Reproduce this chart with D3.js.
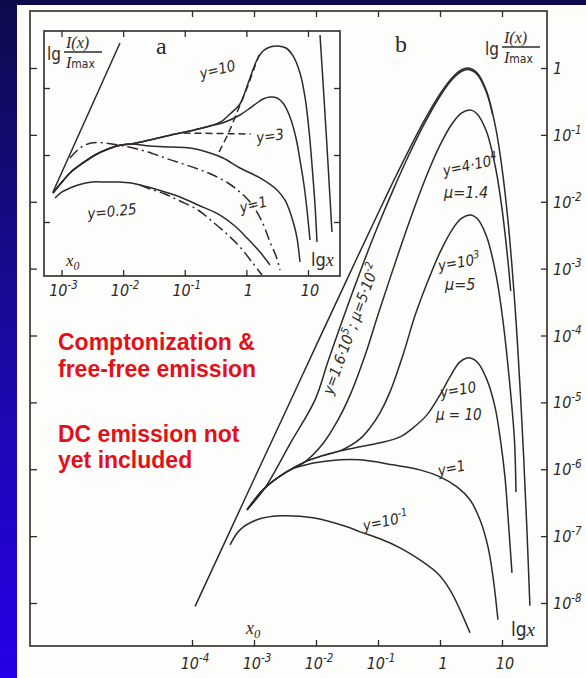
<!DOCTYPE html>
<html><head><meta charset="utf-8">
<script src="https://cdn.jsdelivr.net/npm/d3@7"></script>
<style>html,body{margin:0;padding:0;background:#fff;} svg{display:block;}</style>
</head><body>
<script>
// ---------- data (lg x , lg I/Imax) ----------
const xTicksB = [-4,-3,-2,-1,0,1];
const yTicksB = [0,-1,-2,-3,-4,-5,-6,-7,-8];
const xTicksA = [-3,-2,-1,0,1];
const yTicksA = [0,-1,-2];

// panel b
const planckB = [[-3.95,-8.05],[-3.5,-7.15],[-3,-6.15],[-2.5,-5.155],[-2,-4.155],[-1.5,-3.16],[-1,-2.175],[-0.75,-1.69],[-0.5,-1.223],[-0.25,-0.78],[0,-0.388],[0.2,-0.141],[0.35,-0.026],[0.45,0],[0.6,-0.074],[0.75,-0.343],[0.9,-0.902],[1.0,-1.496],[1.1,-2.315],[1.2,-3.436],[1.25,-4.125],[1.3,-4.918],[1.35,-5.827],[1.4,-6.861],[1.45,-8.04]];
const y16e5 = [[-3.113,-6.607],[-2.823,-6.278],[-2.419,-5.62],[-2.016,-4.963],[-1.8,-4.371],[-1.5,-3.58],[-1.2,-2.831],[-1,-2.36],[-0.75,-1.811],[-0.5,-1.298],[-0.25,-0.829],[0,-0.422],[0.2,-0.169],[0.35,-0.051],[0.45,-0.023],[0.6,-0.096],[0.75,-0.365],[0.85,-0.698]];
const y4e4 = [[-3.113,-6.607],[-2.823,-6.278],[-2.5,-6.054],[-2.177,-5.889],[-1.903,-5.635],[-1.645,-5.262],[-1.435,-4.858],[-1.2,-4.274],[-1,-3.69],[-0.8,-3.127],[-0.6,-2.578],[-0.4,-2.055],[-0.2,-1.574],[0,-1.154],[0.2,-0.827],[0.35,-0.671],[0.5,-0.63],[0.6,-0.688],[0.75,-0.951],[0.9,-1.51],[1.0,-2.104],[1.1,-2.923],[1.14,-3.334]];
const y1e3 = [[-3.113,-6.607],[-2.823,-6.278],[-2.5,-6.054],[-2.177,-5.889],[-1.903,-5.8],[-1.613,-5.725],[-1.29,-5.546],[-1.129,-5.381],[-0.968,-5.157],[-0.806,-4.843],[-0.597,-4.29],[-0.4,-3.695],[-0.2,-3.197],[0,-2.757],[0.2,-2.412],[0.35,-2.246],[0.5,-2.197],[0.6,-2.252],[0.75,-2.516],[0.9,-3.074],[1.0,-3.667],[1.1,-4.486],[1.2,-5.55],[1.225,-6.34]];
const y10B = [[-3.113,-6.607],[-2.823,-6.278],[-2.5,-6.054],[-2.177,-5.889],[-1.903,-5.8],[-1.613,-5.725],[-1.29,-5.665],[-0.968,-5.605],[-0.645,-5.516],[-0.435,-5.381],[-0.21,-5.187],[0,-4.888],[0.161,-4.619],[0.323,-4.395],[0.484,-4.335],[0.613,-4.41],[0.758,-4.664],[0.887,-5.067],[0.968,-5.516],[1.048,-6.114],[1.097,-6.711],[1.161,-7.549]];
const y1B = [[-2.339,-5.979],[-2.016,-5.904],[-1.613,-5.859],[-1.29,-5.859],[-0.758,-5.934],[-0.323,-6.009],[0,-6.114],[0.274,-6.263],[0.484,-6.457],[0.645,-6.756],[0.774,-7.16],[0.855,-7.608],[0.935,-8.251]];
const y01B = [[-3.387,-7.13],[-3.226,-6.906],[-2.952,-6.756],[-2.581,-6.697],[-2.048,-6.726],[-1.5,-6.861],[-1.29,-6.936],[-0.968,-7.04],[-0.645,-7.175],[-0.323,-7.354],[-0.048,-7.549],[0.161,-7.803],[0.323,-8.102],[0.484,-8.446]];

// panel a (inset)
const planckA = [[-3.138,-1.552],[-2.051,0.672]];
const wienA = [[1.195,0.791],[1.292,-0.627],[1.389,-2.149]];
const y10A = [[-3.138,-1.567],[-2.992,-1.403],[-2.846,-1.254],[-2.651,-1.119],[-2.456,-1.0],[-2.245,-0.91],[-2.034,-0.851],[-1.872,-0.836],[-1.564,-0.776],[-1.223,-0.701],[-0.915,-0.642],[-0.785,-0.612],[-0.59,-0.567],[-0.395,-0.493],[-0.266,-0.388],[-0.104,-0.239],[-0.022,-0.06],[0.059,0.149],[0.172,0.418],[0.27,0.552],[0.383,0.612],[0.513,0.627],[0.643,0.597],[0.757,0.478],[0.87,0.224],[0.951,-0.134],[1.016,-0.627],[1.065,-1.149],[1.114,-1.746],[1.146,-2.299]];
const y3A = [[-3.138,-1.567],[-2.992,-1.403],[-2.846,-1.254],[-2.651,-1.119],[-2.456,-1.0],[-2.245,-0.91],[-2.034,-0.851],[-1.872,-0.836],[-1.564,-0.776],[-1.223,-0.701],[-0.915,-0.642],[-0.785,-0.612],[-0.59,-0.567],[-0.347,-0.507],[-0.104,-0.403],[0.059,-0.299],[0.172,-0.224],[0.27,-0.164],[0.383,-0.134],[0.497,-0.149],[0.594,-0.224],[0.708,-0.433],[0.805,-0.746],[0.87,-1.075],[0.935,-1.448],[0.984,-1.821],[1.032,-2.269]];
const y1A = [[-3.138,-1.567],[-2.992,-1.403],[-2.846,-1.254],[-2.651,-1.119],[-2.456,-1.0],[-2.245,-0.91],[-2.034,-0.851],[-1.872,-0.836],[-1.564,-0.866],[-1.223,-0.881],[-0.915,-0.896],[-0.59,-0.97],[-0.379,-1.045],[-0.104,-1.194],[0.221,-1.343],[0.497,-1.522],[0.627,-1.672],[0.708,-1.851],[0.773,-2.045],[0.822,-2.239],[0.87,-2.597]];
const y1Adash = [[-2.862,-1.045],[-2.7,-0.896],[-2.521,-0.821],[-2.294,-0.821],[-2.083,-0.851],[-1.84,-0.896],[-1.596,-0.955],[-1.32,-1.045],[-1.077,-1.119],[-0.785,-1.209],[-0.542,-1.299],[-0.298,-1.418],[-0.104,-1.552],[0.059,-1.701],[0.172,-1.851],[0.286,-2.06],[0.383,-2.299],[0.481,-2.507],[0.546,-2.716]];
const y025A = [[-3.105,-1.642],[-2.992,-1.552],[-2.862,-1.493],[-2.732,-1.448],[-2.505,-1.403],[-2.294,-1.403],[-2.083,-1.403],[-1.872,-1.418],[-1.596,-1.478],[-1.32,-1.552],[-1.077,-1.627],[-0.785,-1.746],[-0.428,-1.896],[-0.185,-2.06],[0.01,-2.239],[0.221,-2.448],[0.383,-2.642]];
const y025Adash = [[-1.726,-1.448],[-1.564,-1.507],[-1.32,-1.582],[-1.077,-1.687],[-0.785,-1.821],[-0.542,-2.0],[-0.298,-2.194],[-0.104,-2.373],[0.091,-2.597],[0.254,-2.791]];
const y3Adash = [[-1.02,-0.672],[0.07,-0.687]];
const y10Adash = [[-0.444,-0.955],[-0.298,-0.687],[-0.136,-0.328],[0.01,0],[0.14,0.328],[0.205,0.493]];

// ---------- drawing ----------
const W = 586, H = 678;
const INK = "#2e2a27";
const LBL = "'Liberation Sans Narrow','DejaVu Sans Condensed','DejaVu Sans',sans-serif";
const SERIF = "'Liberation Serif','DejaVu Serif',serif";
const svg = d3.select("body").append("svg").attr("width", W).attr("height", H);
const defs = svg.append("defs");
const gr = defs.append("linearGradient").attr("id","bg").attr("x1",0).attr("y1",0).attr("x2",0).attr("y2",1);
gr.append("stop").attr("offset",0).attr("stop-color","#0c0c4c");
gr.append("stop").attr("offset",0.5).attr("stop-color","#1a0aa0");
gr.append("stop").attr("offset",1).attr("stop-color","#2600e8");
svg.append("rect").attr("width",W).attr("height",H).attr("fill","url(#bg)");
svg.append("rect").attr("x",17).attr("y",5).attr("width",W-17).attr("height",H-5).attr("fill","#fdfdfb");

// panel b scales
const xB = d3.scaleLinear().domain([-4,1]).range([192,502]);
const yB = d3.scaleLinear().domain([0,-8]).range([68,603]);
const bL = 30, bR = 547, bT = 11, bB = 646;

const frame = svg.append("g").attr("fill","none").attr("stroke",INK).attr("stroke-width",1.6);
frame.append("rect").attr("x",bL).attr("y",bT).attr("width",bR-bL).attr("height",bB-bT);

function ticks(g){ g.select(".domain").remove(); g.selectAll("line").attr("stroke",INK).attr("stroke-width",1.3); g.selectAll("text").remove(); }
svg.append("g").attr("transform",`translate(0,${bB})`).call(d3.axisTop(xB).tickValues(xTicksB).tickSize(6).tickSizeOuter(0)).call(ticks);
svg.append("g").attr("transform",`translate(0,${bT})`).call(d3.axisBottom(xB).tickValues(xTicksB).tickSize(6).tickSizeOuter(0)).call(ticks);
svg.append("g").attr("transform",`translate(${bL},0)`).call(d3.axisRight(yB).tickValues(yTicksB).tickSize(7).tickSizeOuter(0)).call(ticks);
svg.append("g").attr("transform",`translate(${bR},0)`).call(d3.axisLeft(yB).tickValues(yTicksB).tickSize(6).tickSizeOuter(0)).call(ticks);

function powText(g, e, x, y, size, anchor){
  const t = g.append("text").attr("x",x).attr("y",y).attr("font-family",LBL).attr("font-style","italic")
    .attr("font-size",size).attr("fill",INK).attr("text-anchor",anchor||"middle");
  if (e === 0) { t.text("1"); return t; }
  if (e === 1) { t.text("10"); return t; }
  t.append("tspan").text("10");
  t.append("tspan").attr("dy",-size*0.45).attr("font-size",size*0.72).text(String(e));
  return t;
}
const labB = svg.append("g");
xTicksB.forEach(e => powText(labB, e, xB(e)+3, 669, 16));
yTicksB.forEach(e => powText(labB, e, 553, yB(e)+6, 16, "start"));

const lineB = d3.line().x(d=>xB(d[0])).y(d=>yB(d[1])).curve(d3.curveCatmullRom.alpha(0.5));
const curvesB = svg.append("g").attr("fill","none").attr("stroke",INK).attr("stroke-width",1.5).attr("stroke-linejoin","round");
[planckB, y16e5, y4e4, y1e3, y10B, y1B, y01B].forEach(c => curvesB.append("path").attr("d", lineB(c)));

// ---------- inset a ----------
const aL = 44, aR = 340, aT = 31, aB = 276;
const xA = d3.scaleLinear().domain([-3,1]).range([61.5,308]);
const yA = d3.scaleLinear().domain([0,-2]).range([88,222]);
svg.append("rect").attr("x",aL).attr("y",aT).attr("width",aR-aL).attr("height",aB-aT)
  .attr("fill","#fdfdfb").attr("stroke",INK).attr("stroke-width",1.6);
svg.append("g").attr("transform",`translate(0,${aB})`).call(d3.axisTop(xA).tickValues(xTicksA).tickSize(6).tickSizeOuter(0)).call(ticks);
svg.append("g").attr("transform",`translate(0,${aT})`).call(d3.axisBottom(xA).tickValues(xTicksA).tickSize(6).tickSizeOuter(0)).call(ticks);
svg.append("g").attr("transform",`translate(${aL},0)`).call(d3.axisRight(yA).tickValues(yTicksA).tickSize(6).tickSizeOuter(0)).call(ticks);
svg.append("g").attr("transform",`translate(${aR},0)`).call(d3.axisLeft(yA).tickValues(yTicksA).tickSize(6).tickSizeOuter(0)).call(ticks);
const labA = svg.append("g");
xTicksA.forEach(e => powText(labA, e, xA(e)+2, 296, 16));

const lineA = d3.line().x(d=>xA(d[0])).y(d=>yA(d[1])).curve(d3.curveCatmullRom.alpha(0.5));
const curvesA = svg.append("g").attr("fill","none").attr("stroke",INK).attr("stroke-width",1.5).attr("stroke-linejoin","round");
[planckA, wienA, y10A, y3A, y1A, y025A].forEach(c => curvesA.append("path").attr("d", lineA(c)));
[y1Adash, y025Adash].forEach(c => curvesA.append("path").attr("d", lineA(c)).attr("stroke-dasharray","11,4,2,4"));
[y3Adash, y10Adash].forEach(c => curvesA.append("path").attr("d", lineA(c)).attr("stroke-dasharray","7,4"));

// ---------- text ----------
function lbl(x, y, rot, parts, size){
  const t = svg.append("text").attr("transform",`translate(${x},${y}) rotate(${rot||0})`)
    .attr("font-family",LBL).attr("font-style","italic").attr("font-size",size||15).attr("fill",INK);
  parts.forEach(p => {
    if (typeof p === "string") t.append("tspan").text(p);
    else if (p.sup !== undefined) { t.append("tspan").attr("dy",-(size||15)*0.42).attr("font-size",(size||15)*0.72).text(p.sup);
      t.append("tspan").attr("dy",(size||15)*0.42).text("\u200A"); }
    else if (p.sub !== undefined) { t.append("tspan").attr("dy",(size||15)*0.25).attr("font-size",(size||15)*0.72).text(p.sub); }
  });
  return t;
}
// fraction label lg I(x)/Imax
function ratioLabel(x, y){
  const g = svg.append("g").attr("transform",`translate(${x},${y})`).attr("fill",INK);
  g.append("text").attr("x",0).attr("y",12).attr("font-family",LBL).attr("font-size",17).text("lg");
  g.append("text").attr("x",19).attr("y",0).attr("font-family",SERIF).attr("font-style","italic").attr("font-size",16).text("I(x)");
  g.append("line").attr("x1",17).attr("x2",55).attr("y1",4).attr("y2",4).attr("stroke",INK).attr("stroke-width",1.3);
  const t = g.append("text").attr("x",19).attr("y",20).attr("font-family",SERIF).attr("font-size",16);
  t.append("tspan").attr("font-style","italic").text("I");
  t.append("tspan").attr("font-size",12).attr("font-family",LBL).text("max");
}
ratioLabel(485, 43);
ratioLabel(47, 48);
svg.append("text").attr("x",395).attr("y",52).attr("font-family",SERIF).attr("font-size",24).attr("fill",INK).text("b");
svg.append("text").attr("x",156).attr("y",54).attr("font-family",SERIF).attr("font-size",24).attr("fill",INK).text("a");

// x0 and lg x
function x0(x,y,size){ const t = svg.append("text").attr("x",x).attr("y",y).attr("font-family",SERIF).attr("font-style","italic").attr("font-size",size).attr("fill",INK);
  t.append("tspan").text("x"); t.append("tspan").attr("dy",4).attr("font-size",size*0.7).text("0"); }
x0(246, 634, 18); x0(66, 266, 17);
function lgx(x,y,size){ const t = svg.append("text").attr("x",x).attr("y",y).attr("font-family",LBL).attr("font-size",size).attr("fill",INK);
  t.append("tspan").text("lg"); t.append("tspan").attr("font-family",SERIF).attr("font-style","italic").text("x"); }
lgx(511, 636, 19); lgx(311, 266, 18);

// curve labels b
lbl(356, 330, -70, ["y=1.6·10",{sup:"5"},"; μ=5·10",{sup:"-2"}], 15).attr("text-anchor","middle");
lbl(444, 176, -12, ["y=4·10",{sup:"4"}], 15);
lbl(444, 198, 0, ["μ=1.4"], 16);
lbl(439, 271, -10, ["y=10",{sup:"3"}], 15);
lbl(445, 290, 0, ["μ=5"], 16);
lbl(441, 398, -10, ["y=10"], 15);
lbl(436, 420, 0, ["μ = 10"], 15);
lbl(439, 476, -12, ["y=1"], 15);
lbl(364, 531, -12, ["y=10",{sup:"-1"}], 15);
// curve labels a
lbl(201, 79, -14, ["y=10"], 15);
lbl(257, 143, -8, ["y=3"], 15);
lbl(241, 213, -14, ["y=1"], 15);
lbl(88, 219, -6, ["y=0.25"], 15);

// red annotation
const red = svg.append("g").attr("font-family","'Liberation Sans',Arial,sans-serif").attr("font-weight","bold")
  .attr("font-size",23).attr("fill","#e3101a");
[["Comptonization &",350],["free-free emission",377],["DC emission not",442],["yet included",468]]
  .forEach(d => red.append("text").attr("x",58).attr("y",d[1]).text(d[0]));
</script>
</body></html>
